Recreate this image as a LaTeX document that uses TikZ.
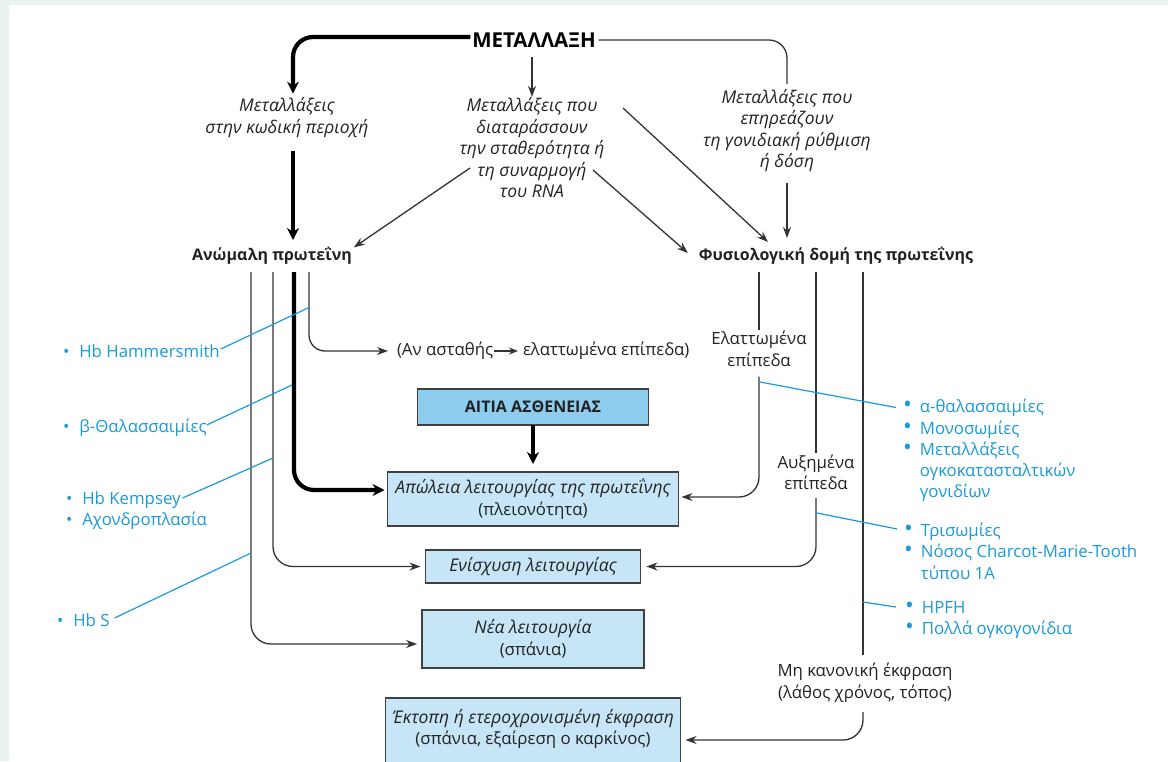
\documentclass[tikz,border=0pt]{standalone}
\usepackage{fontspec}
\setmainfont{Open Sans}
\usetikzlibrary{arrows.meta,calc}
\definecolor{bgband}{HTML}{EAF2EE}
\definecolor{lncol}{HTML}{333333}
\definecolor{boxfill}{HTML}{C6E5F6}
\definecolor{boxdark}{HTML}{8FCDEE}
\definecolor{boxdraw}{HTML}{404040}
\definecolor{anno}{HTML}{1A9AD6}
\definecolor{txt}{HTML}{222222}
\newcommand\blt{\textbullet\hspace{10pt}}
\newcommand\bltR{\scalebox{1.4}{\textbullet}\hspace{8pt}}
\newcommand\hngR{\hphantom{\scalebox{1.4}{\textbullet}}\hspace{8pt}}
\newcommand\boxit{\fontsize{17.5}{21.5}\selectfont\itshape}
\begin{document}
\begin{tikzpicture}[x=1pt,y=-1pt,
  every node/.style={inner sep=0pt, outer sep=0pt, font=\fontsize{16.8}{21.5}\selectfont, text=txt},
  it/.style={font=\fontsize{17.5}{21.5}\selectfont\itshape, align=center},
  hd/.style={font=\fontsize{16}{21.5}\selectfont\bfseries},
  plain/.style={align=center},
  ln/.style={draw=lncol, line width=1.3pt},
  arr/.style={ln, -{Stealth[length=11pt,width=8pt]}},
  thk/.style={draw=black, line width=4.2pt},
  thkarr/.style={thk, -{Stealth[length=12pt,width=12pt]}},
  bl/.style={draw=anno, line width=1.2pt},
  note/.style={text=anno, anchor=west, align=left},
  box/.style={draw=boxdraw, line width=1.6pt, fill=boxfill, align=center},
]
\useasboundingbox (0,0) rectangle (1168,761);
\fill[bgband] (0,0) rectangle (1168,5);
\fill[bgband] (0,0) rectangle (9,761);

% top nodes
\node[font=\fontsize{20.5}{24}\selectfont\bfseries, text=black] (mut) at (534,40) {ΜΕΤΑΛΛΑΞΗ};
\node[it] (code) at (287,117.5) {Μεταλλάξεις\\στην κωδική περιοχή};
\node[it] (rna) at (532,148) {Μεταλλάξεις που\\διαταράσσουν\\την σταθερότητα ή\\τη συναρμογή\\του RNA};
\node[it] (reg) at (787,130.5) {Μεταλλάξεις που\\επηρεάζουν\\τη γονιδιακή ρύθμιση\\ή δόση};
\node[hd] (abn) at (272,256) {Ανώμαλη πρωτεΐνη};
\node[hd] (norm) at (836,256) {Φυσιολογική δομή της πρωτεΐνης};

% middle texts
\node[anchor=west] (an) at (397,351) {(Αν ασταθής};
\node[anchor=west] (el) at (523,351) {ελαττωμένα επίπεδα)};

% boxes
\node[box, fill=boxdark, hd, minimum width=231pt, minimum height=36pt] (ait) at (533,407) {ΑΙΤΙΑ ΑΣΘΕΝΕΙΑΣ};
\node[box, minimum width=291pt, minimum height=54pt] (apol) at (533,499) {{\boxit Απώλεια λειτουργίας της πρωτεΐνης}\\(πλειονότητα)};
\node[box, minimum width=215pt, minimum height=33pt] (enis) at (533,566.5) {{\boxit Ενίσχυση λειτουργίας}};
\node[box, minimum width=222pt, minimum height=58pt] (nea) at (533,639) {{\boxit Νέα λειτουργία}\\(σπάνια)};
\node[box, anchor=north, minimum width=295pt, inner xsep=2pt, inner ysep=11pt] (ekt) at (533,698) {{\boxit Έκτοπη ή ετεροχρονισμένη έκφραση}\\(σπάνια, εξαίρεση ο καρκίνος)\\\rule{0pt}{12pt}};

% right labels
\node[plain] (lo) at (759,349) {Ελαττωμένα\\επίπεδα};
\node[plain] (hi) at (816,472.5) {Αυξημένα\\επίπεδα};
\node[plain] (mk) at (865,682.5) {Μη κανονική έκφραση\\(λάθος χρόνος, τόπος)};

% left notes
\node[note] (hbh) at (63,351) {\blt Hb Hammersmith};
\node[note] (bth) at (63,428) {\blt β-Θαλασσαιμίες};
\node[note] (hbk) at (66,500) {\blt Hb Kempsey};
\node[note] (ach) at (66,521) {\blt Αχονδροπλασία};
\node[note] (hbs) at (57,620) {\blt Hb S};

% right notes
\node[note, font=\fontsize{16.8}{21.25}\selectfont] (lista) at (903,450.5) {\bltR α-θαλασσαιμίες\\\bltR Μονοσωμίες\\\bltR Μεταλλάξεις\\\hngR ογκοκατασταλτικών\\\hngR γονιδίων};
\node[note] (listb) at (904,551) {\bltR Τρισωμίες\\\bltR Νόσος Charcot-Marie-Tooth\\\hngR τύπου 1A};
\node[note] (listc) at (905,620) {\bltR HPFH\\\bltR Πολλά ογκογονίδια};

% top connectors
\draw[thkarr, rounded corners=20pt] ($(mut.west)+(-2,-3)$) -| ($(code.north)+(6,-4)$);
\draw[ln, rounded corners=18pt] ($(mut.east)+(3,0)$) -| ($(reg.north)+(0,-5)$);
\draw[arr] ($(mut.south)+(-2,10)$) -- ($(rna.north)+(0,-1)$);
\draw[thkarr] ($(code.south)+(6,14)$) -- ($(abn.center)+(21,-16)$);
\draw[arr] ($(rna.center)+(-62,20)$) -- ($(abn.north east)+(2,0)$);
\draw[arr] ($(rna.center)+(61,22)$) -- ($(norm.west)+(-11,-3)$);
\draw[arr] ($(rna.center)+(91,-40)$) -- ($(norm.center)+(-68,-14)$);
\draw[arr] ($(reg.south)+(0,11)$) -- ($(norm.center)+(-49,-18)$);

% left branch connectors
\draw[arr, rounded corners=20pt] ($(abn.center)+(-21,16)$) |- ($(nea.west)+(-5,5)$);
\draw[arr, rounded corners=20pt] ($(abn.center)+(1,16)$) |- ($(enis.west)+(-5,0)$);
\draw[thkarr, rounded corners=20pt] ($(abn.center)+(22,16)$) |- ($(apol.west)+(-3,-9)$);
\draw[arr, rounded corners=16pt] ($(abn.center)+(37,16)$) |- ($(an.west)+(-9,0)$);
\draw[ln, line width=1.6pt, -{Stealth[length=9pt,width=7pt]}] ($(an.east)+(1,0)$) -- ($(el.west)+(-5,0)$);
\draw[thkarr] (ait.south) -- ($(apol.north)+(0,-8)$);

% right branch connectors
\draw[ln] ($(norm.center)+(-77,16)$) -- ($(lo.north)+(0,-1)$);
\draw[arr, rounded corners=20pt] ($(lo.south)+(0,10)$) |- ($(apol.east)+(3,-2)$);
\draw[ln] ($(norm.center)+(-20,16)$) -- ($(hi.north)+(0,-2)$);
\draw[arr, rounded corners=20pt] ($(hi.south)+(0,8)$) |- ($(enis.east)+(6,0)$);
\draw[ln] ($(norm.center)+(27,16)$) -- ($(mk.north)+(-2,-8)$);
\draw[arr, rounded corners=20pt] ($(mk.south)+(-2,10)$) |- ($(ekt.north east)+(5,42)$);

% annotation lines
\draw[bl] ($(abn.center)+(38,51)$) -- ($(hbh.east)+(1,-2)$);
\draw[bl] ($(abn.center)+(20,129)$) -- ($(bth.east)+(0,-3)$);
\draw[bl] ($(abn.center)+(1,202)$) -- ($(hbk.east)+(2,-2)$);
\draw[bl] ($(abn.center)+(-21,297)$) -- ($(hbs.east)+(5,-2)$);
\draw[bl] ($(norm.center)+(-76,126)$) -- ($(lista.west)+(-7,-43)$);
\draw[bl] ($(norm.center)+(-19,257)$) -- ($(listb.west)+(-7,-22)$);
\draw[bl] ($(norm.center)+(27,346)$) -- ($(listc.west)+(-9,-13)$);
\end{tikzpicture}
\end{document}
